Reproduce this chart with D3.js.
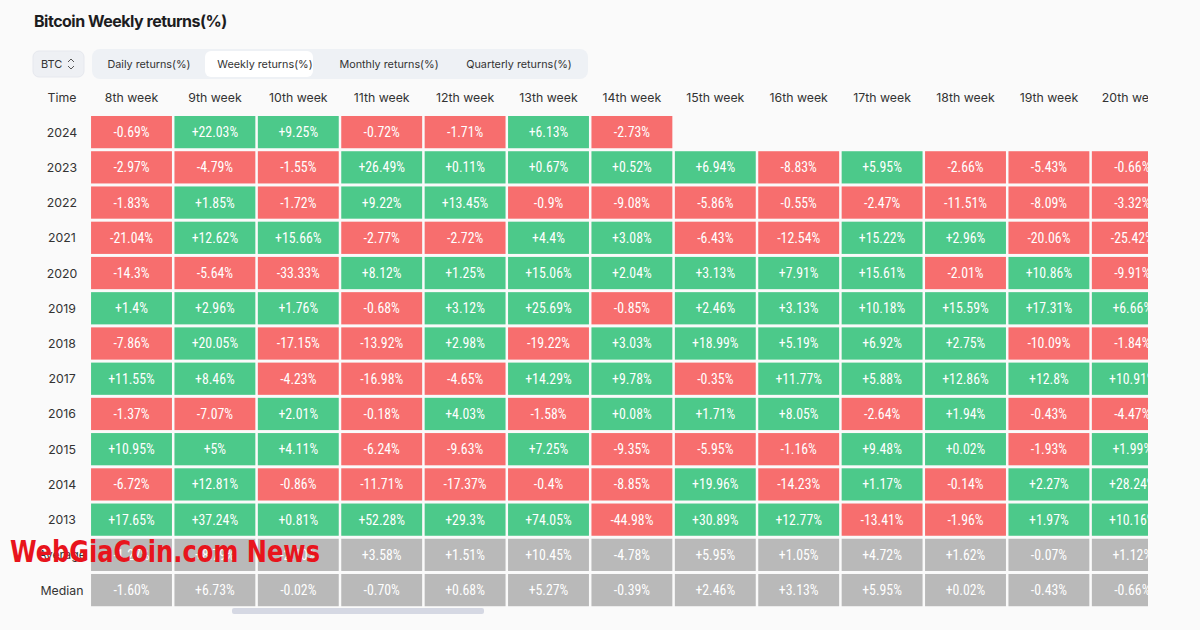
<!DOCTYPE html>
<html><head><meta charset="utf-8">
<script src="https://cdn.jsdelivr.net/npm/d3@7"></script>
<style>
html,body{margin:0;padding:0;background:#fafafa;}
svg{display:block;}
</style>
</head><body>
<svg id="chart" width="1200" height="630"></svg>
<script>
// ---------- DATA ----------
const weeks = ["8th week","9th week","10th week","11th week","12th week","13th week","14th week","15th week","16th week","17th week","18th week","19th week","20th week"];
const rowLabels = ["2024","2023","2022","2021","2020","2019","2018","2017","2016","2015","2014","2013","Average","Median"];
const y2024 = [-0.69, 22.03, 9.25, -0.72, -1.71, 6.13, -2.73, null, null, null, null, null, null];
const y2023 = [-2.97, -4.79, -1.55, 26.49, 0.11, 0.67, 0.52, 6.94, -8.83, 5.95, -2.66, -5.43, -0.66];
const y2022 = [-1.83, 1.85, -1.72, 9.22, 13.45, -0.9, -9.08, -5.86, -0.55, -2.47, -11.51, -8.09, -3.32];
const y2021 = [-21.04, 12.62, 15.66, -2.77, -2.72, 4.4, 3.08, -6.43, -12.54, 15.22, 2.96, -20.06, -25.42];
const y2020 = [-14.3, -5.64, -33.33, 8.12, 1.25, 15.06, 2.04, 3.13, 7.91, 15.61, -2.01, 10.86, -9.91];
const y2019 = [1.4, 2.96, 1.76, -0.68, 3.12, 25.69, -0.85, 2.46, 3.13, 10.18, 15.59, 17.31, 6.66];
const y2018 = [-7.86, 20.05, -17.15, -13.92, 2.98, -19.22, 3.03, 18.99, 5.19, 6.92, 2.75, -10.09, -1.84];
const y2017 = [11.55, 8.46, -4.23, -16.98, -4.65, 14.29, 9.78, -0.35, 11.77, 5.88, 12.86, 12.8, 10.91];
const y2016 = [-1.37, -7.07, 2.01, -0.18, 4.03, -1.58, 0.08, 1.71, 8.05, -2.64, 1.94, -0.43, -4.47];
const y2015 = [10.95, 5, 4.11, -6.24, -9.63, 7.25, -9.35, -5.95, -1.16, 9.48, 0.02, -1.93, 1.99];
const y2014 = [-6.72, 12.81, -0.86, -11.71, -17.37, -0.4, -8.85, 19.96, -14.23, 1.17, -0.14, 2.27, 28.24];
const y2013 = [17.65, 37.24, 0.81, 52.28, 29.3, 74.05, -44.98, 30.89, 12.77, -13.41, -1.96, 1.97, 10.16];
const average = [-1.27, 8.79, -2.10, 3.58, 1.51, 10.45, -4.78, 5.95, 1.05, 4.72, 1.62, -0.07, 1.12];
const median = [-1.60, 6.73, -0.02, -0.70, 0.68, 5.27, -0.39, 2.46, 3.13, 5.95, 0.02, -0.43, -0.66];
const tabLabels = ["Daily returns(%)","Weekly returns(%)","Monthly returns(%)","Quarterly returns(%)"];

const rows = [y2024,y2023,y2022,y2021,y2020,y2019,y2018,y2017,y2016,y2015,y2014,y2013,average,median];

// ---------- STYLE ----------
const GREEN = "#4cc98a", RED = "#f76e6e", GREY = "#b9b9b9";
const UI = "Inter, Roboto, 'Noto Sans', sans-serif";
const CELLFONT = "'Roboto Condensed','DejaVu Sans Condensed','Liberation Sans Narrow', Roboto, sans-serif";

const svg = d3.select("#chart");
svg.append("rect").attr("width",1200).attr("height",630).attr("fill","#fafafa");

// title
svg.append("text").attr("x",34).attr("y",27)
  .attr("font-family",UI).attr("font-weight",700).attr("font-size",16)
  .attr("letter-spacing",-0.5).attr("fill","#1d1d1f")
  .text("Bitcoin Weekly returns(%)");

// BTC selector
svg.append("rect").attr("x",33).attr("y",51).attr("width",51).attr("height",26).attr("rx",6)
  .attr("fill","#eef0f4").attr("stroke","#e6e8ee");
svg.append("text").attr("x",41).attr("y",68).attr("font-family",UI).attr("font-size",11)
  .attr("fill","#333").text("BTC");
svg.append("path").attr("d","M68,62 L71,59 L74,62 M68,66 L71,69 L74,66")
  .attr("fill","none").attr("stroke","#555").attr("stroke-width",1);

// tabs
svg.append("rect").attr("x",92).attr("y",49).attr("width",496).attr("height",30).attr("rx",8)
  .attr("fill","#eef1f5");
svg.append("rect").attr("x",205).attr("y",51).attr("width",108).attr("height",26).attr("rx",6)
  .attr("fill","#ffffff");
const tabCenters = [149,265,389,519];
svg.selectAll("text.tab").data(tabLabels).join("text").attr("class","tab")
  .attr("x",(d,i)=>tabCenters[i]).attr("y",68).attr("text-anchor","middle")
  .attr("font-family",UI).attr("font-size",10.8).attr("fill","#333").text(d=>d);

// scales
const x = d3.scaleBand().domain(weeks).range([89.8, 89.8 + 13*83.4]).paddingInner(0.03).paddingOuter(0.015);
const y = d3.scaleBand().domain(rowLabels).range([114.5, 114.5 + 14*35.23]).paddingInner(0.085).paddingOuter(0.0425);

svg.append("defs").append("clipPath").attr("id","clip")
  .append("rect").attr("x",0).attr("y",0).attr("width",1148).attr("height",630);

// header
svg.append("text").attr("x",62).attr("y",102).attr("text-anchor","middle")
  .attr("font-family",UI).attr("font-size",12.3).attr("fill","#333").text("Time");
const hdr = svg.append("g").attr("clip-path","url(#clip)");
hdr.selectAll("text").data(weeks).join("text")
  .attr("x",d=>x(d)+x.bandwidth()/2).attr("y",102).attr("text-anchor","middle")
  .attr("font-family",UI).attr("font-size",12.3).attr("fill","#333").text(d=>d);

// row labels
svg.selectAll("text.rl").data(rowLabels).join("text").attr("class","rl")
  .attr("x",62).attr("y",d=>y(d)+y.bandwidth()/2+4.5).attr("text-anchor","middle")
  .attr("font-family",UI).attr("font-size",12.3).attr("fill","#333").text(d=>d);

// cells
const cells = [];
rows.forEach((arr,ri)=>{
  const label = rowLabels[ri];
  const stat = ri >= 12;
  arr.forEach((v,ci)=>{
    if (v===null) return;
    const txt = (v>0?"+":"") + (stat ? v.toFixed(2) : String(v)) + "%";
    cells.push({row:label, col:weeks[ci], v, txt, fill: stat ? GREY : (v>=0?GREEN:RED)});
  });
});
const g = svg.append("g").attr("clip-path","url(#clip)");
g.selectAll("rect").data(cells).join("rect")
  .attr("x",d=>x(d.col)).attr("y",d=>y(d.row))
  .attr("width",x.bandwidth()).attr("height",y.bandwidth())
  .attr("fill",d=>d.fill);
g.selectAll("text").data(cells).join("text")
  .attr("x",d=>x(d.col)+x.bandwidth()/2).attr("y",d=>y(d.row)+y.bandwidth()/2+5)
  .attr("text-anchor","middle").attr("font-family",CELLFONT).attr("font-stretch","condensed")
  .attr("font-size",13.8).attr("fill","#ffffff").text(d=>d.txt);

// scrollbar
svg.append("rect").attr("x",232).attr("y",608).attr("width",252).attr("height",6).attr("rx",2)
  .attr("fill","#d5d8e3");

// watermark
svg.append("text").attr("x",10).attr("y",562)
  .attr("font-family","Impact,'Liberation Sans Narrow','DejaVu Sans Condensed',sans-serif")
  .attr("font-weight",700).attr("font-size",30).attr("fill","#e8141c")
  .attr("textLength",310).attr("lengthAdjust","spacingAndGlyphs")
  .text("WebGiaCoin.com News");
</script>
</body></html>
